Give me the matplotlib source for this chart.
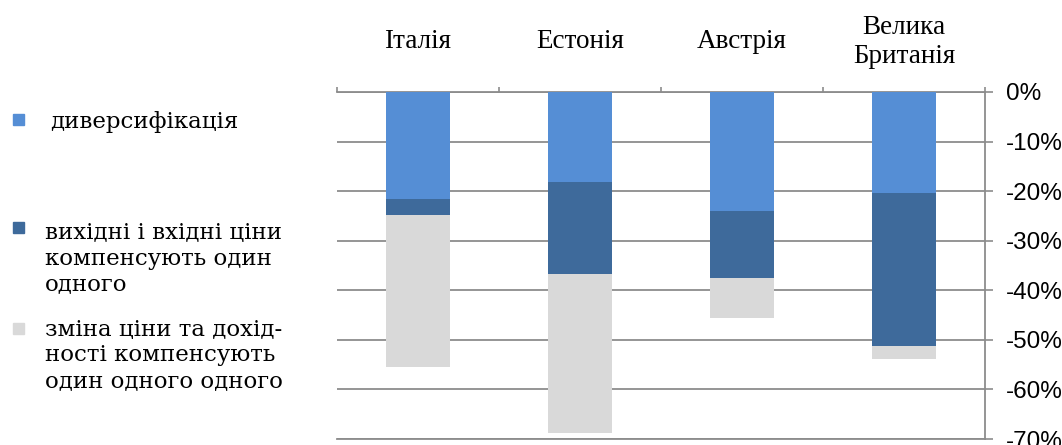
import numpy as np
import matplotlib.pyplot as plt

countries = ["Італія", "Естонія", "Австрія", "Велика\nБританія"]
series = ["диверсифікація",
          "вихідні і вхідні ціни\nкомпенсують один\nодного",
          "зміна ціни та дохід-\nності компенсують\nодин одного одного"]
# внески кожного фактора, %
diversification = [-21.6, -18.2, -24.1, -20.3]
prices_offset = [-3.2, -18.5, -13.4, -31.0]
yield_offset = [-30.7, -32.1, -8.1, -2.5]
yticks = [0, -10, -20, -30, -40, -50, -60, -70]

colors = ["#558ed5", "#3e6a9b", "#d9d9d9"]
grid_c = "#8c8c8c"
PX = 72 / 100  # points per pixel

fig = plt.figure(figsize=(10.62, 4.45), dpi=100)
ax = fig.add_axes([337/1062, 1-439/445, (985-337)/1062, (439-92)/445])

x = np.arange(len(countries))
bottom = np.zeros(len(countries))
for vals, c in zip([diversification, prices_offset, yield_offset], colors):
    ax.bar(x, vals, width=0.4, bottom=bottom, color=c, zorder=3)
    bottom = bottom + np.array(vals)

ax.set_xlim(-0.5, len(countries) - 0.5)
ax.set_ylim(-70, 0)
ax.set_yticks(yticks)
ax.set_yticklabels([f"{v}%" for v in yticks], fontfamily="Liberation Sans", fontsize=17.5)
ax.yaxis.tick_right()
ax.tick_params(axis="y", length=8 * PX, width=1.2, color=grid_c, pad=13 * PX)
ax.grid(axis="y", color=grid_c, linewidth=1.3, zorder=0)

ax.xaxis.tick_top()
ax.set_xticks(np.arange(-0.5, len(countries)))
ax.set_xticklabels([])
ax.tick_params(axis="x", length=5 * PX, width=1.2, color=grid_c, direction="out")

ax.spines["left"].set_visible(False)
for s in ["top", "bottom", "right"]:
    ax.spines[s].set_color(grid_c)
    ax.spines[s].set_linewidth(1.3)

# назви країн над стовпцями
for i, name in enumerate(countries):
    ax.annotate(name, xy=(i, 1 + 50 / 347), xycoords=("data", "axes fraction"),
                ha="center", va="center", fontfamily="Liberation Serif",
                fontsize=19.5, linespacing=1.25, annotation_clip=False)

# легенда зліва
def fy(py):
    return 1 - py / 445

marker_rows = [120, 228, 329]
text_rows = [122, 258.5, 355.5]
text_x = [50, 45, 45]
for label, c, my, ty, tx in zip(series, colors, marker_rows, text_rows, text_x):
    fig.patches.append(plt.Rectangle((13/1062, fy(my) - 5/445), 11/1062, 11/445,
                                     transform=fig.transFigure, color=c))
    fig.text(tx/1062, fy(ty), label, ha="left", va="center",
             fontfamily="DejaVu Serif", fontsize=16.5, linespacing=1.22)

fig.savefig("out.png", dpi=100)
